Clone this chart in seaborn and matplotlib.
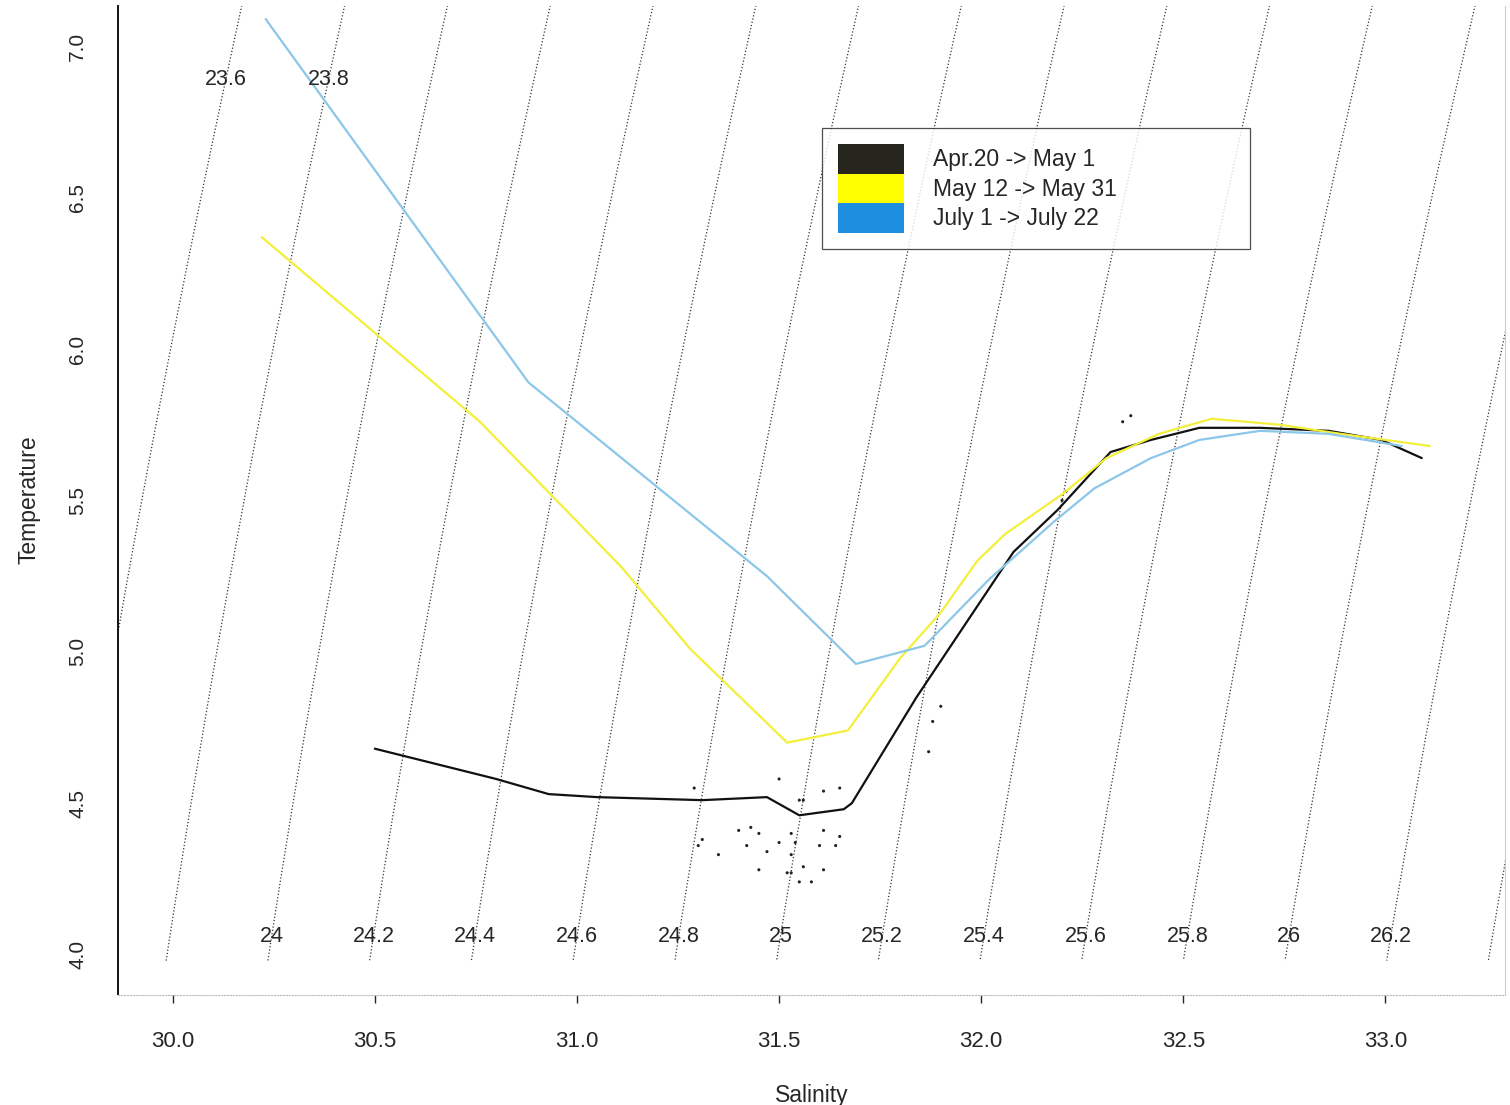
import numpy as np
import pandas as pd
import matplotlib
matplotlib.use("Agg")
import matplotlib.pyplot as plt
from matplotlib.patches import Patch
import seaborn as sns

# T-S profiles (salinity, temperature)
period_labels = ["Apr.20 -> May 1", "May 12 -> May 31", "July 1 -> July 22"]

apr_sal = [30.50, 30.80, 30.93, 31.05, 31.31, 31.47, 31.55, 31.66, 31.68, 31.84, 32.00,
           32.08, 32.19, 32.32, 32.42, 32.54, 32.69, 32.86, 32.99, 33.09]
apr_temp = [4.68, 4.58, 4.53, 4.52, 4.51, 4.52, 4.46, 4.48, 4.50, 4.85, 5.17,
            5.33, 5.47, 5.66, 5.70, 5.74, 5.74, 5.73, 5.70, 5.64]

may_sal = [30.22, 30.76, 31.11, 31.28, 31.52, 31.67, 31.80, 31.90, 31.99, 32.06,
           32.20, 32.31, 32.44, 32.57, 32.74, 32.89, 33.11]
may_temp = [6.37, 5.76, 5.28, 5.01, 4.70, 4.74, 4.98, 5.13, 5.30, 5.39,
            5.52, 5.64, 5.72, 5.77, 5.75, 5.72, 5.68]

jul_sal = [30.23, 30.88, 31.47, 31.69, 31.86, 32.02, 32.18, 32.28, 32.42, 32.54,
           32.69, 32.86, 33.04]
jul_temp = [7.09, 5.89, 5.25, 4.96, 5.02, 5.24, 5.43, 5.54, 5.64, 5.70,
            5.73, 5.72, 5.68]

# scattered raw casts (April), around the minimum
dots_sal = [31.43, 31.45, 31.42, 31.50, 31.53, 31.54, 31.53, 31.52, 31.53, 31.55,
            31.56, 31.61, 31.60, 31.64, 31.65, 31.61, 31.47, 31.45, 31.30, 31.35,
            31.31, 31.40, 31.58, 31.29, 31.50, 31.55, 31.56, 31.61, 31.65, 31.87,
            31.88, 31.90, 32.20, 32.21, 32.35, 32.37]
dots_temp = [4.42, 4.40, 4.36, 4.37, 4.40, 4.37, 4.33, 4.27, 4.27, 4.24,
             4.29, 4.41, 4.36, 4.36, 4.39, 4.28, 4.34, 4.28, 4.36, 4.33,
             4.38, 4.41, 4.24, 4.55, 4.58, 4.51, 4.51, 4.54, 4.55, 4.67,
             4.77, 4.82, 5.50, 5.53, 5.76, 5.78]

# sigma-t levels drawn as dotted isopycnals
sigma_levels = [23.6, 23.8, 24.0, 24.2, 24.4, 24.6, 24.8, 25.0, 25.2,
                25.4, 25.6, 25.8, 26.0, 26.2, 26.4]
top_labels = ["23.6", "23.8"]
bottom_labels = ["24", "24.2", "24.4", "24.6", "24.8", "25", "25.2", "25.4",
                 "25.6", "25.8", "26", "26.2"]

line_colors = ["#111111", "#f3ef3a", "#8cc6e8"]
legend_colors = ["#26261f", "#ffff00", "#1e8fe0"]


def sigma_t(S, T):
    # UNESCO 1980 density at surface pressure, minus 1000
    rho_w = (999.842594 + 6.793952e-2 * T - 9.095290e-3 * T**2 + 1.001685e-4 * T**3
             - 1.120083e-6 * T**4 + 6.536332e-9 * T**5)
    A = 8.24493e-1 - 4.0899e-3 * T + 7.6438e-5 * T**2 - 8.2467e-7 * T**3 + 5.3875e-9 * T**4
    B = -5.72466e-3 + 1.0227e-4 * T - 1.6546e-6 * T**2
    C = 4.8314e-4
    return rho_w + A * S + B * S**1.5 + C * S**2 - 1000


df = pd.concat([
    pd.DataFrame({"Salinity": apr_sal, "Temperature": apr_temp, "period": period_labels[0]}),
    pd.DataFrame({"Salinity": may_sal, "Temperature": may_temp, "period": period_labels[1]}),
    pd.DataFrame({"Salinity": jul_sal, "Temperature": jul_temp, "period": period_labels[2]}),
], ignore_index=True)

sns.set_style("white")
plt.rcParams["font.family"] = ["Liberation Sans", "DejaVu Sans"]

fig = plt.figure(figsize=(15.1, 11.05), dpi=100)
ax = fig.add_axes([0.078, 0.1, 0.919, 0.895])

xlim = (29.864, 33.297)
ylim = (3.868, 7.135)

# isopycnals
sg, tg = np.meshgrid(np.linspace(xlim[0], xlim[1], 300), np.linspace(3.98, ylim[1], 300))
ax.contour(sg, tg, sigma_t(sg, tg), levels=sigma_levels, colors="#333333",
           linestyles=":", linewidths=0.9)

s_fine = np.linspace(29.0, 34.0, 5001)
for lab in top_labels:
    s_pos = np.interp(float(lab), sigma_t(s_fine, 6.89), s_fine)
    ax.text(s_pos, 6.89, lab, ha="center", va="center", fontsize=15.5)
for lab in bottom_labels:
    s_pos = np.interp(float(lab), sigma_t(s_fine, 4.06), s_fine)
    ax.text(s_pos, 4.06, lab, ha="center", va="center", fontsize=15.5)

sns.scatterplot(x=dots_sal, y=dots_temp, ax=ax, color="#222222", s=5,
                edgecolor="none", legend=False)

sns.lineplot(data=df, x="Salinity", y="Temperature", hue="period",
             hue_order=period_labels, palette=line_colors, sort=False,
             estimator=None, linewidth=1.6, ax=ax, legend=False)

handles = [Patch(facecolor=c, edgecolor="none") for c in legend_colors]
leg = ax.legend(handles, period_labels, loc="upper left",
                bbox_to_anchor=(0.5076, 0.758, 0.3086, 0.118), mode="expand",
                fontsize=16.5, frameon=True, fancybox=False, handlelength=2.85,
                handleheight=1.6, labelspacing=0.0, handletextpad=1.3,
                borderpad=0.7, borderaxespad=0)
leg.get_frame().set_edgecolor("#222222")
leg.get_frame().set_linewidth(0.9)

ax.set_xlim(xlim)
ax.set_ylim(ylim)
ax.set_xticks([30.0, 30.5, 31.0, 31.5, 32.0, 32.5, 33.0])
ax.set_xticklabels(["30.0", "30.5", "31.0", "31.5", "32.0", "32.5", "33.0"], fontsize=16)
ax.set_yticks([4.0, 4.5, 5.0, 5.5, 6.0, 6.5, 7.0])
ax.set_yticklabels(["4.0", "4.5", "5.0", "5.5", "6.0", "6.5", "7.0"], fontsize=15,
                   rotation=90, va="center")
ax.tick_params(axis="x", direction="out", length=6, width=1, pad=20, bottom=True)
ax.tick_params(axis="y", length=0, pad=22)

ax.set_xlabel("Salinity", fontsize=16.5, labelpad=23)
ax.set_ylabel("Temperature", fontsize=16.5, labelpad=20)

ax.spines["top"].set_visible(False)
ax.spines["left"].set_color("#111111")
ax.spines["left"].set_linewidth(1.4)
ax.spines["bottom"].set_color("#bbbbbb")
ax.spines["bottom"].set_linewidth(0.8)
ax.spines["bottom"].set_linestyle(":")
ax.spines["right"].set_color("#cccccc")
ax.spines["right"].set_linewidth(0.8)

fig.savefig("out.png", dpi=100)
